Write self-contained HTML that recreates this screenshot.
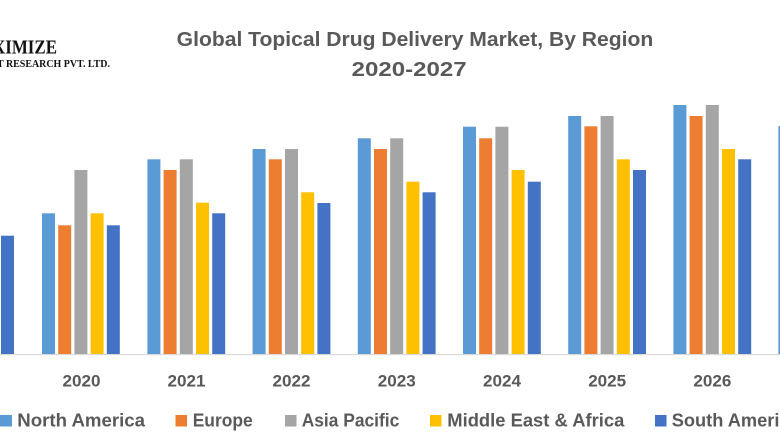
<!DOCTYPE html>
<html>
<head>
<meta charset="utf-8">
<style>
  html, body { margin: 0; padding: 0; background: #ffffff; }
  body { width: 780px; height: 440px; overflow: hidden; }
  svg { display: block; }
  .t { font-family: "Liberation Sans", "DejaVu Sans", sans-serif; font-weight: bold; fill: #595959; }
  .logo { font-family: "Liberation Serif", "DejaVu Serif", serif; font-weight: bold; fill: #111111; }
</style>
</head>
<body>
<svg width="780" height="440" viewBox="0 0 780 440" xmlns="http://www.w3.org/2000/svg">
  <rect x="0" y="0" width="780" height="440" fill="#ffffff"/>

  <!-- Logo (cropped) -->
  <text class="logo" x="57" y="53.5" font-size="20" text-anchor="end" textLength="64" lengthAdjust="spacingAndGlyphs">XIMIZE</text>
  <text class="logo" x="-3" y="67" font-size="10.5" textLength="113" lengthAdjust="spacingAndGlyphs">T RESEARCH PVT. LTD.</text>

  <!-- Title -->
  <text class="t" x="176.7" y="46" font-size="20.5" textLength="476.6" lengthAdjust="spacingAndGlyphs">Global Topical Drug Delivery Market, By Region</text>
  <text class="t" x="351.7" y="76" font-size="20.5" textLength="115" lengthAdjust="spacingAndGlyphs">2020-2027</text>

  <!-- Axis line -->
  <rect x="0" y="354" width="780" height="1.2" fill="#d9d9d9"/>

  <!-- 2019 (partial) -->
  <rect x="1" y="235.7" width="13" height="118.3" fill="#4472C4"/>

  <!-- 2020 -->
  <rect x="42" y="213.3" width="13" height="140.7" fill="#5B9BD5"/>
  <rect x="58.2" y="225.3" width="13" height="128.7" fill="#ED7D31"/>
  <rect x="74.4" y="170" width="13" height="184" fill="#A5A5A5"/>
  <rect x="90.6" y="213.3" width="13" height="140.7" fill="#FFC000"/>
  <rect x="106.8" y="225.3" width="13" height="128.7" fill="#4472C4"/>

  <!-- 2021 -->
  <rect x="147.4" y="159.3" width="13" height="194.7" fill="#5B9BD5"/>
  <rect x="163.6" y="170" width="13" height="184" fill="#ED7D31"/>
  <rect x="179.8" y="159.3" width="13" height="194.7" fill="#A5A5A5"/>
  <rect x="196" y="202.7" width="13" height="151.3" fill="#FFC000"/>
  <rect x="212.2" y="213.3" width="13" height="140.7" fill="#4472C4"/>

  <!-- 2022 -->
  <rect x="252.6" y="149" width="13" height="205" fill="#5B9BD5"/>
  <rect x="268.8" y="159.3" width="13" height="194.7" fill="#ED7D31"/>
  <rect x="285" y="149" width="13" height="205" fill="#A5A5A5"/>
  <rect x="301.2" y="192.3" width="13" height="161.7" fill="#FFC000"/>
  <rect x="317.4" y="203" width="13" height="151" fill="#4472C4"/>

  <!-- 2023 -->
  <rect x="357.8" y="138.3" width="13" height="215.7" fill="#5B9BD5"/>
  <rect x="374" y="149" width="13" height="205" fill="#ED7D31"/>
  <rect x="390.2" y="138.3" width="13" height="215.7" fill="#A5A5A5"/>
  <rect x="406.4" y="181.7" width="13" height="172.3" fill="#FFC000"/>
  <rect x="422.6" y="192.3" width="13" height="161.7" fill="#4472C4"/>

  <!-- 2024 -->
  <rect x="463" y="126.7" width="13" height="227.3" fill="#5B9BD5"/>
  <rect x="479.2" y="138.3" width="13" height="215.7" fill="#ED7D31"/>
  <rect x="495.4" y="126.7" width="13" height="227.3" fill="#A5A5A5"/>
  <rect x="511.6" y="170" width="13" height="184" fill="#FFC000"/>
  <rect x="527.8" y="181.7" width="13" height="172.3" fill="#4472C4"/>

  <!-- 2025 -->
  <rect x="568.2" y="116" width="13" height="238" fill="#5B9BD5"/>
  <rect x="584.4" y="126.3" width="13" height="227.7" fill="#ED7D31"/>
  <rect x="600.6" y="116" width="13" height="238" fill="#A5A5A5"/>
  <rect x="616.8" y="159.3" width="13" height="194.7" fill="#FFC000"/>
  <rect x="633" y="170" width="13" height="184" fill="#4472C4"/>

  <!-- 2026 -->
  <rect x="673.4" y="105" width="13" height="249" fill="#5B9BD5"/>
  <rect x="689.6" y="116" width="13" height="238" fill="#ED7D31"/>
  <rect x="705.8" y="105" width="13" height="249" fill="#A5A5A5"/>
  <rect x="722" y="149" width="13" height="205" fill="#FFC000"/>
  <rect x="738.2" y="159.3" width="13" height="194.7" fill="#4472C4"/>

  <!-- 2027 (partial) -->
  <rect x="778.4" y="126" width="13" height="228" fill="#5B9BD5"/>

  <!-- X labels -->
  <text class="t" x="81.5" y="386.5" font-size="17" text-anchor="middle" textLength="38" lengthAdjust="spacingAndGlyphs">2020</text>
  <text class="t" x="186.5" y="386.5" font-size="17" text-anchor="middle" textLength="38" lengthAdjust="spacingAndGlyphs">2021</text>
  <text class="t" x="291.5" y="386.5" font-size="17" text-anchor="middle" textLength="38" lengthAdjust="spacingAndGlyphs">2022</text>
  <text class="t" x="396.8" y="386.5" font-size="17" text-anchor="middle" textLength="38" lengthAdjust="spacingAndGlyphs">2023</text>
  <text class="t" x="502" y="386.5" font-size="17" text-anchor="middle" textLength="38" lengthAdjust="spacingAndGlyphs">2024</text>
  <text class="t" x="607.2" y="386.5" font-size="17" text-anchor="middle" textLength="38" lengthAdjust="spacingAndGlyphs">2025</text>
  <text class="t" x="712.4" y="386.5" font-size="17" text-anchor="middle" textLength="38" lengthAdjust="spacingAndGlyphs">2026</text>

  <!-- Legend -->
  <rect x="0" y="415" width="12" height="11.5" fill="#5B9BD5"/>
  <text class="t" x="17.3" y="426.7" font-size="18.5" textLength="127.7" lengthAdjust="spacingAndGlyphs">North America</text>

  <rect x="175.5" y="415" width="11.5" height="11.5" fill="#ED7D31"/>
  <text class="t" x="192.7" y="426.7" font-size="18.5" textLength="60" lengthAdjust="spacingAndGlyphs">Europe</text>

  <rect x="285" y="415" width="11.5" height="11.5" fill="#A5A5A5"/>
  <text class="t" x="301.7" y="426.7" font-size="18.5" textLength="97.6" lengthAdjust="spacingAndGlyphs">Asia Pacific</text>

  <rect x="430" y="415" width="11.5" height="11.5" fill="#FFC000"/>
  <text class="t" x="447.3" y="426.7" font-size="18.5" textLength="177" lengthAdjust="spacingAndGlyphs">Middle East &amp; Africa</text>

  <rect x="655" y="415" width="11.5" height="11.5" fill="#4472C4"/>
  <text class="t" x="671.7" y="426.7" font-size="18.5" textLength="128" lengthAdjust="spacingAndGlyphs">South America</text>
</svg>
</body>
</html>
